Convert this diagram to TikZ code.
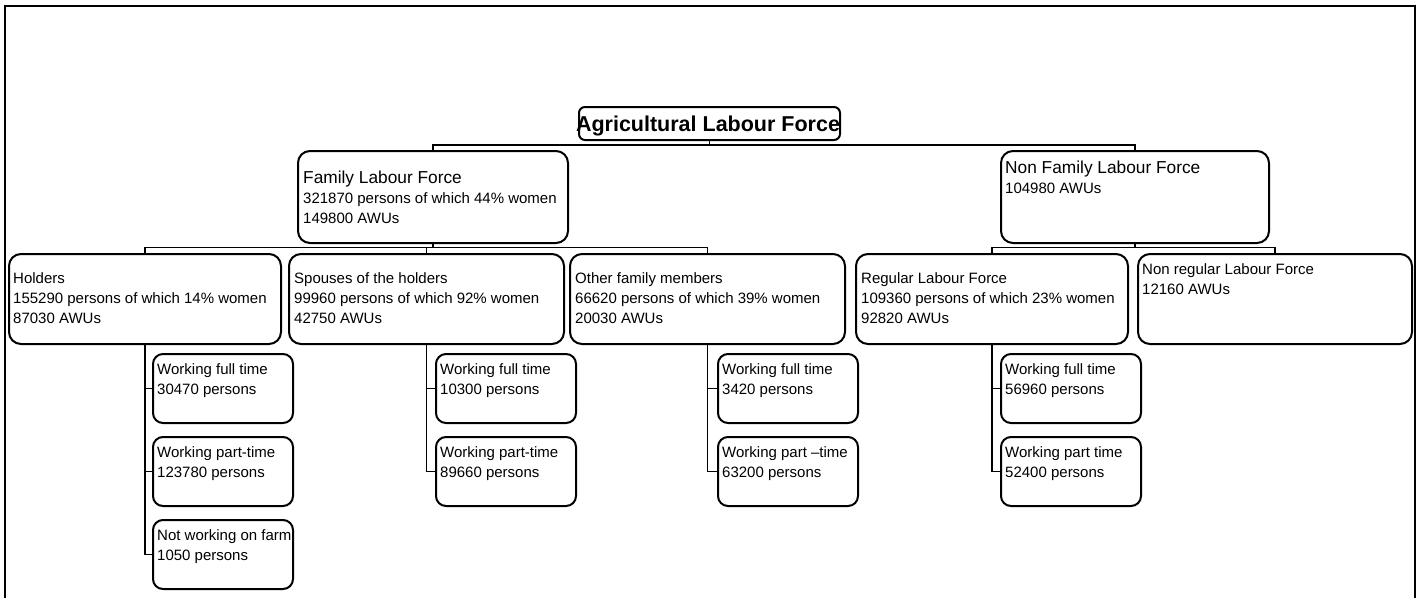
\documentclass[tikz,border=0pt]{standalone}
\usepackage{fontspec}
\setmainfont{Liberation Sans}
\usetikzlibrary{calc}
\begin{document}
\begin{tikzpicture}[x=1pt,y=-1pt,
  box/.style={draw, line width=2pt, rounded corners=12pt, inner sep=0pt, anchor=north west, minimum height=90pt},
  subbox/.style={draw, line width=2pt, rounded corners=10pt, inner sep=0pt, anchor=north west, minimum width=140pt, minimum height=69pt},
  conn/.style={line width=1.5pt},
  txt/.style={anchor=north west, inner sep=0pt, align=left, font=\fontsize{15}{20}\selectfont},
  frame/.style={line width=2.2pt}
]
\useasboundingbox (0,0) rectangle (1423,598);
\newcommand{\ttlfont}{\fontsize{17.3}{20}\selectfont}
\newcommand{\st}{\rule{0pt}{13pt}}
% outer frame
\coordinate (fA) at (5,598);
\coordinate (fB) at (1415,598);
\draw[frame] (fA) -- (5,6) -- (1415,6) -- (fB);
% top box
\node[draw, line width=2pt, rounded corners=6pt, inner sep=0pt, anchor=north west, minimum width=261pt, minimum height=33pt] (agri) at (578,106) {};
\node[anchor=base, inner sep=0pt, font=\fontsize{21.5}{24}\selectfont\bfseries] (agriT) at (708,131) {Agricultural Labour Force};
% level 2
\node[box, minimum width=270pt, minimum height=92pt] (fam) at (297,150) {};
\node[txt] (famT) at (303,170) {\st{\ttlfont Family Labour Force}\\321870 persons of which 44\% women\\149800 AWUs};
\node[box, minimum width=268pt, minimum height=92pt] (nonfam) at (1000,150) {};
\node[txt] (nonfamT) at (1005,160) {\st{\ttlfont Non Family Labour Force}\\104980 AWUs};
% level 3
\node[box, minimum width=272pt] (hold) at (8,253) {};
\node[txt] (holdT) at (13,270) {\st Holders\\155290 persons of which 14\% women\\87030 AWUs};
\node[box, minimum width=275pt] (spou) at (288,253) {};
\node[txt] (spouT) at (294,270) {\st Spouses of the holders\\99960 persons of which 92\% women\\42750 AWUs};
\node[box, minimum width=275pt] (oth) at (569,253) {};
\node[txt] (othT) at (575,270) {\st Other family members\\66620 persons of which 39\% women\\20030 AWUs};
\node[box, minimum width=272pt] (reg) at (855,253) {};
\node[txt] (regT) at (861,270) {\st Regular Labour Force\\109360 persons of which 23\% women\\92820 AWUs};
\node[box, minimum width=274pt] (nonreg) at (1137,253) {};
\node[txt] (nonregT) at (1142,261) {\st Non regular Labour Force\\12160 AWUs};
% level 4
\node[subbox] (h1) at (152,353) {};
\node[txt] (h1T) at (157,361) {\st Working full time\\30470 persons};
\node[subbox] (h2) at (152,436) {};
\node[txt] (h2T) at (157,444) {\st Working part-time\\123780 persons};
\node[subbox] (h3) at (152,519) {};
\node[txt] (h3T) at (157,527) {\st Not working on farm\\1050 persons};
\node[subbox] (s1) at (435,353) {};
\node[txt] (s1T) at (440,361) {\st Working full time\\10300 persons};
\node[subbox] (s2) at (435,436) {};
\node[txt] (s2T) at (440,444) {\st Working part-time\\89660 persons};
\node[subbox] (o1) at (717,353) {};
\node[txt] (o1T) at (722,361) {\st Working full time\\3420 persons};
\node[subbox] (o2) at (717,436) {};
\node[txt] (o2T) at (722,444) {\st Working part –time\\63200 persons};
\node[subbox] (r1) at (1000,353) {};
\node[txt] (r1T) at (1005,361) {\st Working full time\\56960 persons};
\node[subbox] (r2) at (1000,436) {};
\node[txt] (r2T) at (1005,444) {\st Working part time\\52400 persons};
% connectors
\coordinate (barA) at (0,145);
\coordinate (barF) at (0,247.5);
\draw[conn] (agri.south) -- (agri.south |- barA) -| (fam.north);
\draw[conn] (agri.south |- barA) -| (nonfam.north);
\draw[conn] (fam.south) -- (fam.south |- barF) -| (hold.north);
\draw[conn] (fam.south |- barF) -| (spou.north);
\draw[conn] (fam.south |- barF) -| (oth.north);
\draw[conn] (nonfam.south) -- (nonfam.south |- barF) -| (reg.north);
\draw[conn] (nonfam.south |- barF) -| (nonreg.north);
\draw[conn] (hold.south) |- (h1.west);
\draw[conn] (hold.south) |- (h2.west);
\draw[conn] (hold.south) |- (h3.west);
\draw[conn] (spou.south) |- (s1.west);
\draw[conn] (spou.south) |- (s2.west);
\draw[conn] (oth.south) |- (o1.west);
\draw[conn] (oth.south) |- (o2.west);
\draw[conn] (reg.south) |- (r1.west);
\draw[conn] (reg.south) |- (r2.west);
\end{tikzpicture}
\end{document}
